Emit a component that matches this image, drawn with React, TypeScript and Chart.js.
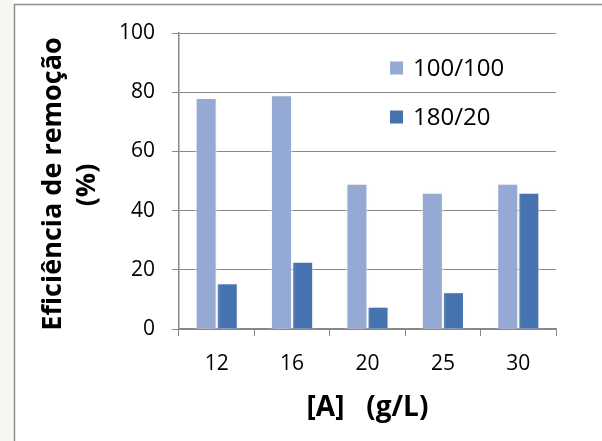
import React, { useEffect, useRef } from 'react';
import { Chart, registerables } from 'chart.js';

Chart.register(...registerables);

// Concentration categories and removal efficiencies (%)
const categories = ['12', '16', '20', '25', '30'];
const series100 = [77.7, 78.6, 48.7, 45.7, 48.7];
const series180 = [15.1, 22.4, 7.2, 12.1, 45.7];
const seriesLabels = ['100/100', '180/20'];
const seriesColors = ['#94A9D3', '#4673B0'];
const yTicks = [0, 20, 40, 60, 80, 100];
const yTitleLines = ['Eficiência de remoção', '(%)'];
const xTitle = '[A]   (g/L)';

const FONT = "'Open Sans', sans-serif";
const GRID = '#878787';

// Outer frame (top and left edges) behind the chart
const framePlugin = {
  id: 'frame',
  beforeDraw(chart: any) {
    const { ctx, width, height } = chart;
    ctx.save();
    ctx.fillStyle = '#ffffff';
    ctx.fillRect(0, 0, width, height);
    ctx.fillStyle = '#f5f7f3';
    ctx.fillRect(0, 0, 14, height);
    ctx.strokeStyle = '#8e8e8e';
    ctx.lineWidth = 1.5;
    ctx.beginPath();
    ctx.moveTo(14.5, height);
    ctx.lineTo(14.5, 4.5);
    ctx.lineTo(width, 4.5);
    ctx.stroke();
    ctx.restore();
  },
};

// Soft pale halo around the bars
const haloPlugin = {
  id: 'halo',
  beforeDatasetsDraw(chart: any) {
    const ctx = chart.ctx;
    ctx.save();
    ctx.shadowColor = 'rgba(248,240,240,1)';
    ctx.shadowBlur = 5;
    ctx.shadowOffsetX = 0;
    ctx.shadowOffsetY = 0;
  },
  afterDatasetsDraw(chart: any) {
    chart.ctx.restore();
  },
};

// Two-line rotated y-axis title
const yTitlePlugin = {
  id: 'yTitle',
  afterDraw(chart: any) {
    const ctx = chart.ctx;
    const pos = [
      { x: 61, y: 184 },
      { x: 95, y: 185 },
    ];
    ctx.save();
    ctx.fillStyle = '#000';
    ctx.font = `bold 27px ${FONT}`;
    ctx.textAlign = 'center';
    ctx.textBaseline = 'alphabetic';
    yTitleLines.forEach((line, i) => {
      ctx.save();
      ctx.translate(pos[i].x, pos[i].y);
      ctx.rotate(-Math.PI / 2);
      ctx.fillText(line, 0, 0);
      ctx.restore();
    });
    ctx.restore();
  },
};

// Legend drawn inside the plot area, top right
const legendPlugin = {
  id: 'insideLegend',
  afterDraw(chart: any) {
    const ctx = chart.ctx;
    const rows = [68, 117];
    ctx.save();
    ctx.font = `24px ${FONT}`;
    ctx.textAlign = 'left';
    ctx.textBaseline = 'middle';
    chart.data.datasets.forEach((ds: any, i: number) => {
      const cy = rows[i];
      ctx.fillStyle = ds.backgroundColor;
      ctx.fillRect(390, cy - 6.5, 13, 13);
      ctx.fillStyle = '#000';
      ctx.fillText(ds.label, 413, cy + 1);
    });
    ctx.restore();
  },
};

export default function App() {
  const canvasRef = useRef<HTMLCanvasElement | null>(null);

  useEffect(() => {
    if (!canvasRef.current) return;
    const chart = new Chart(canvasRef.current, {
      type: 'bar',
      data: {
        labels: categories,
        datasets: [
          {
            label: seriesLabels[0],
            data: series100,
            backgroundColor: seriesColors[0],
            borderWidth: 0,
            categoryPercentage: 0.56,
            barPercentage: 0.9,
          },
          {
            label: seriesLabels[1],
            data: series180,
            backgroundColor: seriesColors[1],
            borderWidth: 0,
            categoryPercentage: 0.56,
            barPercentage: 0.9,
          },
        ],
      },
      options: {
        responsive: false,
        animation: false,
        devicePixelRatio: 1,
        layout: { padding: { top: 33, right: 46, bottom: 0, left: 0 } },
        plugins: {
          legend: { display: false },
          tooltip: { enabled: false },
          title: { display: false },
        },
        scales: {
          x: {
            type: 'category',
            offset: true,
            grid: {
              display: true,
              offset: true,
              drawOnChartArea: false,
              drawTicks: true,
              tickLength: 7,
              color: GRID,
              lineWidth: 1,
            },
            border: { display: true, color: GRID, width: 1.5 },
            ticks: {
              color: '#000',
              font: { family: FONT, size: 21 },
              padding: 15,
              maxRotation: 0,
            },
            title: {
              display: true,
              text: xTitle,
              color: '#000',
              font: { family: FONT, size: 28, weight: 'bold' },
              padding: { top: 0, bottom: 16 },
            },
            afterFit(scale: any) {
              scale.height = 112;
            },
          },
          y: {
            min: 0,
            max: 100,
            afterBuildTicks(scale: any) {
              scale.ticks = yTicks.map((v) => ({ value: v }));
            },
            grid: {
              color: GRID,
              lineWidth: 1,
              drawTicks: true,
              tickLength: 7,
            },
            border: { display: true, color: GRID, width: 1.5 },
            ticks: {
              color: '#000',
              font: { family: FONT, size: 21 },
              padding: 17,
            },
            afterFit(scale: any) {
              scale.width = 179;
            },
          },
        },
      },
      plugins: [framePlugin, haloPlugin, yTitlePlugin, legendPlugin],
    } as any);
    return () => chart.destroy();
  }, []);

  return (
    <div style={{ position: 'fixed', left: 0, top: 0, width: 602, height: 441, background: '#fff' }}>
      <canvas ref={canvasRef} width={602} height={441} style={{ display: 'block', width: 602, height: 441 }} />
    </div>
  );
}
